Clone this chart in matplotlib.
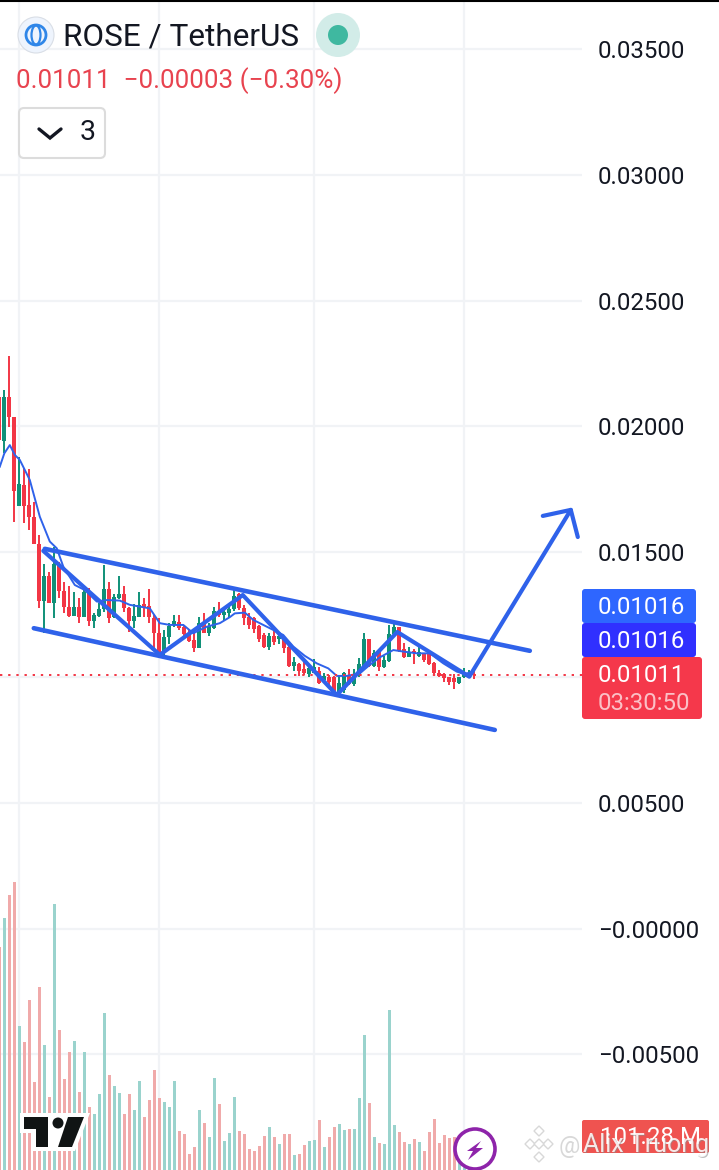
import numpy as np
import matplotlib
matplotlib.use('Agg')
import matplotlib.pyplot as plt
from matplotlib.patches import Circle, Ellipse, FancyBboxPatch, Polygon

plt.rcParams['font.family'] = ['Roboto', 'DejaVu Sans']

# Velas
opens = [.02118, .01943, .02118, .02036, .01684, .01766, .01687, .01640, .01530, .01306, .01404, .01295,
         .01452, .01346, .01279, .01246, .01279, .01242, .01339, .01226, .01246, .01271, .01351, .01239,
         .01315, .01332, .01275, .01226, .01242, .01291, .01286, .01235, .01176, .01103, .01162, .01209,
         .01222, .01200, .01178, .01149, .01116, .01216, .01176, .01196, .01266, .01249, .01255, .01271,
         .01332, .01275, .01242, .01235, .01205, .01169, .01123, .01166, .01153, .01162, .01120, .01046,
         .01052, .01032, .01014, .01019, .01027, .00990, .01003, .01001, .00937, .00950, .01010, .00973,
         .01006, .01043, .01152, .01046, .01103, .01040, .01067, .01173, .01200, .01112, .01083, .01107,
         .01086, .01096, .01099, .01059, .01019, .01014, .01001, .00997, .00977, .01001, .01005, .01014]
highs = [.02144, .02144, .02280, .02036, .01879, .01833, .01829, .01700, .01567, .01452, .01421, .01521,
         .01461, .01381, .01365, .01339, .01315, .01361, .01355, .01258, .01295, .01448, .01381, .01332,
         .01404, .01365, .01282, .01291, .01342, .01315, .01351, .01249, .01235, .01189, .01218, .01247,
         .01247, .01209, .01189, .01182, .01242, .01255, .01216, .01282, .01302, .01271, .01289, .01355,
         .01338, .01289, .01255, .01242, .01209, .01178, .01176, .01196, .01176, .01165, .01139, .01083,
         .01056, .01067, .01043, .01072, .01040, .01016, .01010, .01006, .01006, .01023, .01032, .01032,
         .01076, .01176, .01152, .01109, .01103, .01086, .01209, .01222, .01200, .01136, .01120, .01112,
         .01125, .01099, .01109, .01063, .01030, .01019, .01003, .01014, .01003, .01036, .01030, .01036]
lows = [.01945, .01892, .01998, .01620, .01684, .01614, .01587, .01530, .01278, .01176, .01295, .01235,
        .01315, .01255, .01242, .01246, .01218, .01242, .01206, .01196, .01242, .01262, .01218, .01235,
        .01311, .01262, .01182, .01196, .01239, .01242, .01216, .01116, .01089, .01089, .01133, .01202,
        .01189, .01156, .01143, .01103, .01116, .01176, .01166, .01192, .01242, .01229, .01235, .01266,
        .01269, .01209, .01192, .01176, .01143, .01116, .01109, .01129, .01133, .01099, .01040, .01027,
        .01006, .01010, .01001, .01016, .00974, .00983, .00970, .00926, .00934, .00940, .00970, .00967,
        .01003, .01040, .01043, .01040, .01027, .01036, .01063, .01169, .01103, .01078, .01080, .01054,
        .01083, .01063, .01050, .01014, .01003, .00983, .00970, .00953, .00974, .00997, .01000, .00993]
closes = [.01945, .02118, .02036, .01744, .01770, .01684, .01640, .01530, .01306, .01404, .01295, .01452,
          .01346, .01279, .01246, .01279, .01242, .01339, .01226, .01249, .01271, .01351, .01235, .01319,
          .01332, .01275, .01226, .01245, .01289, .01275, .01239, .01176, .01103, .01162, .01206, .01226,
          .01196, .01173, .01145, .01116, .01216, .01176, .01205, .01266, .01249, .01262, .01271, .01324,
          .01275, .01235, .01209, .01192, .01152, .01120, .01166, .01143, .01166, .01116, .01046, .01063,
          .01026, .01016, .01036, .01043, .00979, .01006, .00983, .00937, .00977, .01016, .00973, .01010,
          .01054, .01152, .01046, .01099, .01043, .01070, .01173, .01202, .01107, .01080, .01103, .01096,
          .01103, .01070, .01054, .01016, .01006, .00997, .00983, .00983, .01001, .01016, .01014, .01011]

# Volumen en millones
volumes = [685, 774, 844, 884, 442, 393, 522, 270, 562, 384, 224, 817, 430, 279, 362, 396, 239, 362, 193, 172,
           233, 482, 292, 258, 236, 172, 233, 184, 273, 163, 215, 307, 221, 209, 193, 273, 120, 111, 49, 71,
           184, 144, 101, 282, 203, 89, 114, 224, 120, 111, 64, 58, 74, 104, 132, 101, 80, 111, 111, 46,
           49, 77, 89, 92, 154, 71, 101, 132, 141, 123, 126, 126, 221, 414, 206, 101, 83, 80, 491, 138,
           117, 86, 80, 95, 86, 58, 117, 157, 83, 107, 98, 101, 100, 80, 90, 101.28]

# Media movil
ma_idx = [0.1, 1, 2.1, 3.1, 4.1, 6.1, 8.1, 10.1, 11.5, 12.8, 15.1, 17.1, 19.5, 21.5, 24.1, 26.1, 28.1, 30.1,
          32.1, 34.1, 36.8, 38.8, 41.5, 44.1, 46.1, 47.1, 49.1, 50.8, 52.8, 55.1, 56.8, 58.8, 61.1, 63.5,
          65.8, 67.5, 69.5, 72.1, 74.1, 76.1, 78.8, 80.8, 83.5, 86.1, 88.8, 91.5, 93.1, 94.8]
ma_val = [.01839, .01892, .01925, .01886, .01866, .01786, .01640, .01541, .01514, .01441, .01368, .01348,
          .01302, .01308, .01306, .01289, .01282, .01275, .01216, .01209, .01209, .01176, .01202, .01216,
          .01240, .01255, .01258, .01229, .01209, .01186, .01169, .01123, .01086, .01056, .01036, .01006,
          .01006, .01016, .01050, .01080, .01109, .01103, .01096, .01096, .01056, .01023, .01014, .01023]

# Dibujos a mano sobre el grafico
top_idx, top_val = [9.1, 106.1], [.01512, .01106]
bottom_idx, bottom_val = [6.9, 99.1], [.01196, .00791]
zigzag_idx = [8.8, 32.1, 48.7, 67.5, 79.6, 94.0, 114.3]
zigzag_val = [.01504, .01090, .01328, .00930, .01181, .01003, .01667]
head_idx = [108.7, 114.3, 115.7]
head_val = [.01643, .01667, .01559]

price_ticks = [.035, .03, .025, .02, .015, .01, .005, 0, -.005]
tick_labels = ['0.03500', '0.03000', '0.02500', '0.02000', '0.01500', '', '0.00500', '\u22120.00000', '\u22120.00500']
grid_idx = [4, 32, 63, 93]

RED = '#f23645'
GREEN = '#0f9078'
BLUE = '#2f62ea'
GRID = '#f1f3f6'

W, H = 719, 1170
fig = plt.figure(figsize=(W / 100, H / 100), dpi=100)
rect = [0, 0, 582 / W, 1]
idx = np.arange(len(closes))
up = np.array(closes) >= np.array(opens)

ax = fig.add_axes(rect)
ax.set_xlim(0.14, 116.54)
ax.set_ylim(-.00961, .03697)
for s in ax.spines.values():
    s.set_visible(False)
ax.yaxis.tick_right()
ax.set_yticks(price_ticks)
ax.set_yticklabels(tick_labels)
ax.set_xticks(grid_idx)
ax.set_xticklabels([])
ax.tick_params(axis='both', length=0)
ax.tick_params(axis='y', pad=11.5, labelsize=17.3, labelcolor='#131722')
ax.grid(True, color=GRID, lw=1.6)
ax.set_axisbelow(True)

colors = [GREEN if u else RED for u in up]
ax.vlines(idx, lows, highs, colors=colors, lw=1.4, zorder=2)
ax.bar(idx, np.abs(np.array(closes) - np.array(opens)), bottom=np.minimum(opens, closes), width=0.84,
       color=colors, zorder=2)
ax.plot(ma_idx, ma_val, color=BLUE, lw=1.4, zorder=3)
ax.axhline(closes[-1], color=RED, lw=1.4, ls=(0, (1.2, 3)), zorder=3)
ax.plot(top_idx, top_val, color=BLUE, lw=3.3, solid_capstyle='round', zorder=4)
ax.plot(bottom_idx, bottom_val, color=BLUE, lw=3.3, solid_capstyle='round', zorder=4)
ax.plot(zigzag_idx, zigzag_val, color=BLUE, lw=3, solid_capstyle='round', solid_joinstyle='round', zorder=4)
ax.plot(head_idx, head_val, color=BLUE, lw=3, solid_capstyle='round', solid_joinstyle='round', zorder=4)

# Panel de volumen
vol = fig.add_axes(rect, sharex=ax)
vol.patch.set_visible(False)
vol.axis('off')
vol.set_ylim(0, 3592)
vol_colors = ['#9ad3cd' if u else '#f0aaaa' for u in up]
vol.bar(idx, volumes, width=0.6, color=vol_colors)

# Capa de etiquetas en pixeles
over = fig.add_axes([0, 0, 1, 1], zorder=5)
over.set_xlim(0, W)
over.set_ylim(H, 0)
over.axis('off')
over.plot([0, W], [0.5, 0.5], color='black', lw=1.5)

# Cabecera
over.add_patch(Circle((36, 35), 18, fc='#eef4fd', ec='#d9dee6', lw=0.8))
over.add_patch(Circle((36, 35), 10, fc='none', ec='#2f86e8', lw=2))
over.add_patch(Ellipse((36, 35), 9, 19, fc='none', ec='#2f86e8', lw=1.6))
over.text(63, 37, 'ROSE / TetherUS', fontsize=22.7, color='#131722', va='center', ha='left')
over.add_patch(Circle((338, 35), 22, fc='#d2ece8', ec='none'))
over.add_patch(Circle((338, 35), 10, fc='#3fb8a0', ec='none'))
over.text(16, 81, '0.01011  \u22120.00003 (\u22120.30%)', fontsize=18.7, color='#e8434f', va='center', ha='left')
over.add_patch(FancyBboxPatch((19, 108), 86, 50, boxstyle='round,pad=0,rounding_size=5', fc='white', ec='#dcdcdc', lw=1.5))
over.plot([39, 50, 61], [129, 138, 129], color='#131722', lw=2.4, solid_capstyle='round', solid_joinstyle='miter')
over.text(80, 133, '3', fontsize=20.5, color='#131722', va='center', ha='left')

# Etiquetas de precio
over.add_patch(FancyBboxPatch((582, 589), 114, 34, boxstyle='round,pad=0,rounding_size=3', fc='#2e66ff', ec='none'))
over.add_patch(FancyBboxPatch((582, 623), 114, 34, boxstyle='round,pad=0,rounding_size=3', fc='#3030ff', ec='none'))
over.add_patch(FancyBboxPatch((582, 657), 120, 62, boxstyle='round,pad=0,rounding_size=3', fc='#f5384b', ec='none'))
over.text(598, 608, '0.01016', fontsize=17.3, color='white', va='center')
over.text(598, 642, '0.01016', fontsize=17.3, color='white', va='center')
over.text(598, 676, '0.01011', fontsize=17.3, color='white', va='center')
over.text(598, 704, '03:30:50', fontsize=17.3, color='#fbc0c6', va='center')

# Etiqueta de volumen y marca de agua
over.add_patch(FancyBboxPatch((582, 1120), 127, 33, boxstyle='round,pad=0,rounding_size=2', fc='#ef5350', ec='none'))
over.text(600, 1138, '101.28 M', fontsize=17.3, color='white', va='center')
for cx, cy, r in [(539, 1131, 5), (530, 1144, 5), (548, 1144, 5), (539, 1157, 5)]:
    over.add_patch(Polygon([(cx - r, cy), (cx, cy - r), (cx + r, cy), (cx, cy + r)], fc='white', ec='#d8d8d8', lw=1))
over.add_patch(Polygon([(539, 1139), (544, 1144), (539, 1149), (534, 1144)], fc='white', ec='#d8d8d8', lw=1))
over.text(559, 1146, '@', fontsize=17, color='#d8d8d8', va='center')
over.text(584.5, 1146.5, 'Alix Truong', fontsize=18, color='#8c8c8c', alpha=0.55, va='center')
over.text(583, 1145, 'Alix Truong', fontsize=18, color='white', alpha=0.85, va='center')

# Logo de TradingView
over.add_patch(Polygon([(20, 1113), (90, 1113), (75, 1151), (33, 1151), (33, 1133), (20, 1133)], fc='white', ec='none'))
over.add_patch(Polygon([(24, 1117), (48, 1117), (48, 1147), (36, 1147), (36, 1129), (24, 1129)], fc='#101414', ec='none'))
over.add_patch(Circle((58, 1123), 5.5, fc='#101414', ec='none'))
over.add_patch(Polygon([(68, 1117), (84, 1117), (72, 1147), (58, 1147)], fc='#101414', ec='none'))

# Icono del rayo
over.add_patch(Circle((475, 1149), 20, fc='white', ec='#8e24aa', lw=2.6))
over.add_patch(Polygon([(481, 1141), (467, 1151), (473, 1151), (468, 1160), (483, 1148), (476, 1148)], fc='#8e24aa', ec='none'))

fig.savefig('out.png', dpi=100)
